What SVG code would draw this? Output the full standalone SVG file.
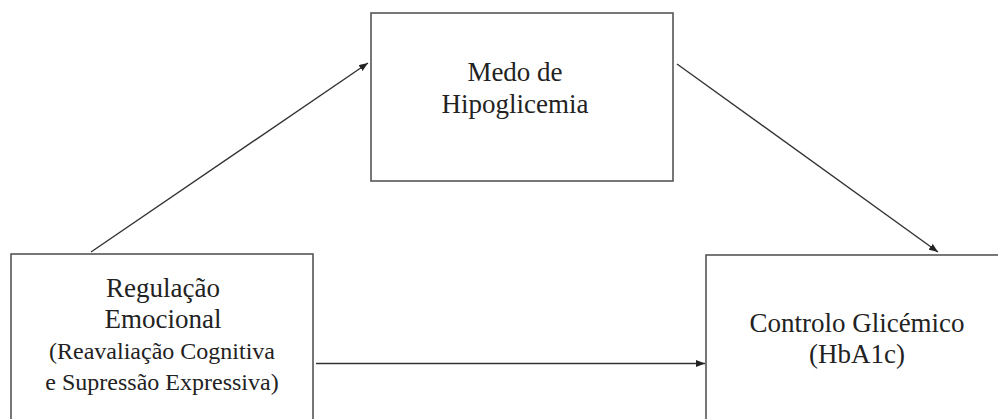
<svg xmlns="http://www.w3.org/2000/svg" width="998" height="419" viewBox="0 0 998 419">
<defs>
<marker id="ah" markerWidth="9" markerHeight="7" refX="9" refY="3.5" orient="auto" markerUnits="userSpaceOnUse">
<path d="M0,0 L9,3.5 L0,7 Z" fill="#222"/>
</marker>
</defs>
<style>
.box{fill:#fff;stroke:#555;stroke-width:1.6}
.t{font-family:'Liberation Serif','Times New Roman',serif;fill:#222;text-anchor:middle}
.m{font-size:27px}
.s{font-size:24px}
.c{stroke:#333;stroke-width:1.4;fill:none;marker-end:url(#ah)}
</style>
<rect width="998" height="419" fill="#fff"/>
<g id="node-medo">
<rect class="box" x="371" y="13" width="302" height="168"/>
<text class="t m" x="515" y="81">Medo de</text>
<text class="t m" x="515" y="113">Hipoglicemia</text>
</g>
<g id="node-regulacao">
<rect class="box" x="11" y="254" width="302" height="180"/>
<text class="t m" x="163" y="297">Regulação</text>
<text class="t m" x="163" y="328">Emocional</text>
<text class="t s" x="162" y="359">(Reavaliação Cognitiva</text>
<text class="t s" x="162" y="390">e Supressão Expressiva)</text>
</g>
<g id="node-controlo">
<rect class="box" x="706" y="255" width="302" height="180"/>
<text class="t m" x="857" y="332">Controlo Glicémico</text>
<text class="t m" x="857" y="363">(HbA1c)</text>
</g>
<g id="connectors">
<line class="c" x1="91" y1="252" x2="368" y2="63"/>
<line class="c" x1="677" y1="64" x2="938" y2="252"/>
<line class="c" x1="316" y1="363.5" x2="705" y2="363.5"/>
</g>
</svg>
